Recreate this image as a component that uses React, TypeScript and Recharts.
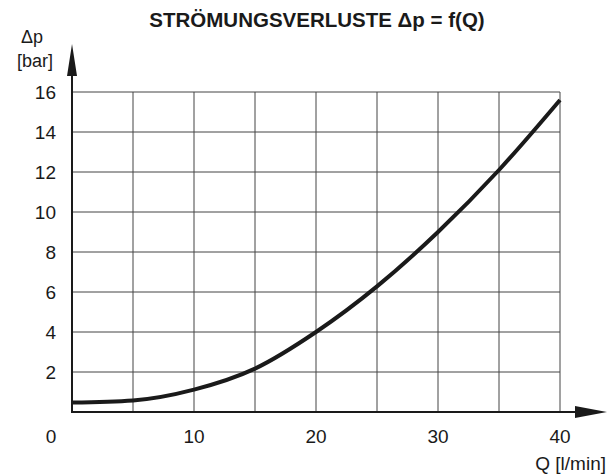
import React from "react";
import {
  LineChart,
  Line,
  XAxis,
  YAxis,
  CartesianGrid,
  ReferenceLine,
} from "recharts";

// Q [l/min] and pressure loss Δp [bar]
const flow = [0, 5, 10, 15, 20, 25, 30, 35, 40];
const pressureLoss = [0.47, 0.58, 1.12, 2.17, 4.0, 6.28, 9.0, 12.1, 15.6];

const qTicks = [0, 5, 10, 15, 20, 25, 30, 35, 40];
const qLabels = [0, 10, 20, 30, 40];
const dpTicks = [0, 2, 4, 6, 8, 10, 12, 14, 16];
const dpLabels = [2, 4, 6, 8, 10, 12, 14, 16];

const data = flow.map((q, i) => ({ q, dp: pressureLoss[i] }));

const FONT = '"Liberation Sans", Arial, sans-serif';
const INK = "#1a1a1a";

const arrowShape = (half: number) => (props: any) => {
  const { x1, y1, x2, y2 } = props;
  const dx = x2 - x1;
  const dy = y2 - y1;
  const len = Math.sqrt(dx * dx + dy * dy) || 1;
  const ux = dx / len;
  const uy = dy / len;
  const head = 32;
  const bx = x2 - ux * head;
  const by = y2 - uy * head;
  const pts = [
    `${x2},${y2}`,
    `${bx - uy * half},${by + ux * half}`,
    `${bx + uy * half},${by - ux * half}`,
  ].join(" ");
  return (
    <g>
      <line
        x1={x1 - ux}
        y1={y1 - uy}
        x2={bx + ux * 2}
        y2={by + uy * 2}
        stroke={INK}
        strokeWidth={2}
      />
      <polygon points={pts} fill={INK} />
    </g>
  );
};

const renderXTick = (props: any) => {
  const { x, y, payload } = props;
  const v = Number(payload.value);
  if (!qLabels.includes(v)) return <g />;
  const shift = v === 0 ? -21 : 0;
  return (
    <text
      x={x + shift}
      y={y}
      textAnchor="middle"
      dominantBaseline="central"
      fontFamily={FONT}
      fontSize={19}
      fill={INK}
    >
      {v}
    </text>
  );
};

const renderYTick = (props: any) => {
  const { x, y, payload } = props;
  const v = Number(payload.value);
  if (!dpLabels.includes(v)) return <g />;
  return (
    <text
      x={x}
      y={y}
      textAnchor="end"
      dominantBaseline="central"
      fontFamily={FONT}
      fontSize={19}
      fill={INK}
    >
      {v}
    </text>
  );
};

export default function App() {
  return (
    <div style={{ position: "absolute", left: 0, top: 0, background: "#fff" }}>
      <LineChart
        width={614}
        height={475}
        data={data}
        margin={{ top: 92, right: 54, bottom: 0, left: 0 }}
      >
        <CartesianGrid stroke="#444" strokeWidth={1} />
        <XAxis
          type="number"
          dataKey="q"
          domain={[0, 40]}
          ticks={qTicks}
          height={63}
          axisLine={false}
          tickLine={false}
          tickSize={0}
          tickMargin={24}
          tick={renderXTick}
          interval={0}
        />
        <YAxis
          type="number"
          domain={[0, 16]}
          ticks={dpTicks}
          width={72}
          axisLine={false}
          tickLine={false}
          tickSize={0}
          tickMargin={16}
          tick={renderYTick}
          interval={0}
        />
        <Line
          type="monotone"
          dataKey="dp"
          stroke={INK}
          strokeWidth={4}
          dot={false}
          isAnimationActive={false}
        />
        <ReferenceLine
          segment={[
            { x: 0, y: 0 },
            { x: 43.85, y: 0 },
          ]}
          ifOverflow="visible"
          shape={arrowShape(6)}
        />
        <ReferenceLine
          segment={[
            { x: 0, y: 0 },
            { x: 0, y: 18.4 },
          ]}
          ifOverflow="visible"
          shape={arrowShape(5)}
        />
        <text
          x={317}
          y={27}
          textAnchor="middle"
          fontFamily={FONT}
          fontWeight="bold"
          fontSize={20.5}
          fill={INK}
        >
          STRÖMUNGSVERLUSTE Δp = f(Q)
        </text>
        <text x={32} y={43} textAnchor="middle" fontFamily={FONT} fontSize={18} fill={INK}>
          Δp
        </text>
        <text x={35} y={67} textAnchor="middle" fontFamily={FONT} fontSize={18} fill={INK}>
          [bar]
        </text>
        <text x={606} y={470} textAnchor="end" fontFamily={FONT} fontSize={19} fill={INK}>
          Q [l/min]
        </text>
      </LineChart>
    </div>
  );
}
